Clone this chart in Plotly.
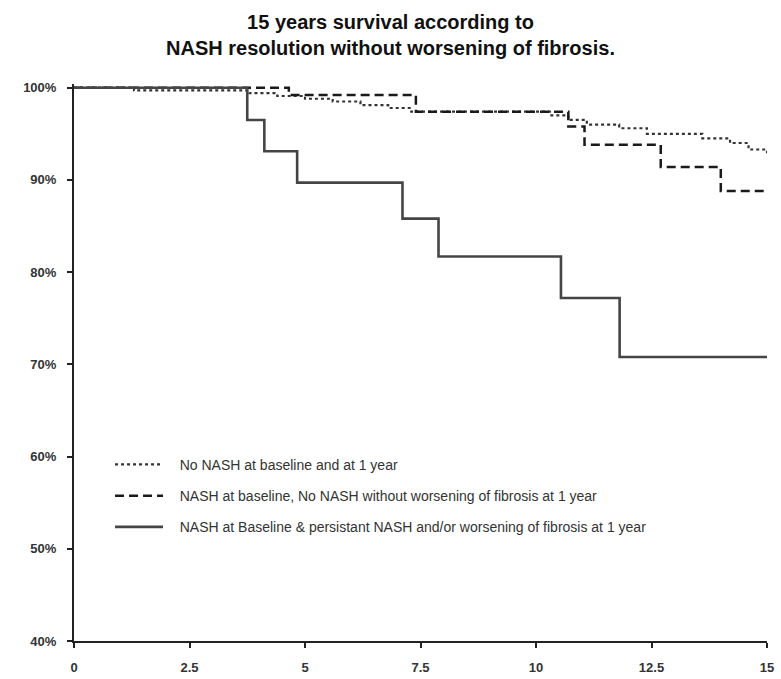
import plotly.graph_objects as go

# Kaplan-Meier step curves: follow-up time (years) and cumulative survival (%)
no_nash_t = [0, 1.3, 3.8, 4.4, 5.0, 5.6, 6.2, 6.8, 7.3, 10.3, 10.7, 11.1, 11.8, 12.4, 13.6, 14.2, 14.6, 15]
no_nash_s = [100, 99.7, 99.4, 99.1, 98.8, 98.5, 98.1, 97.8, 97.4, 97.0, 96.5, 96.0, 95.6, 95.0, 94.5, 94.0, 93.3, 92.9]

resolved_t = [0, 4.65, 7.4, 10.7, 11.05, 12.7, 14.0, 15]
resolved_s = [100, 99.2, 97.4, 95.8, 93.8, 91.4, 88.8, 88.8]

persistent_t = [0, 3.75, 4.12, 4.83, 7.11, 7.89, 10.54, 11.81, 15]
persistent_s = [100, 96.5, 93.1, 89.7, 85.8, 81.7, 77.2, 70.8, 70.8]

series_names = [
    "No NASH at baseline and at 1 year",
    "NASH at baseline, No NASH without worsening of fibrosis at 1 year",
    "NASH at Baseline & persistant NASH and/or worsening of fibrosis at 1 year",
]

x_ticks = [0, 2.5, 5, 7.5, 10, 12.5, 15]
x_tick_labels = ["0", "2.5", "5", "7.5", "10", "12.5", "15"]
y_ticks = [40, 50, 60, 70, 80, 90, 100]
y_tick_labels = ["40%", "50%", "60%", "70%", "80%", "90%", "100%"]

FONT = "Liberation Sans, Arial, sans-serif"
PAD = "&nbsp;&nbsp;&nbsp;"

fig = go.Figure()
fig.add_trace(go.Scatter(
    x=no_nash_t, y=no_nash_s, mode="lines", line_shape="hv",
    name=PAD + series_names[0], legendgroup="a",
    line=dict(color="#333333", width=2.2, dash="dot"),
))
fig.add_trace(go.Scatter(
    x=resolved_t, y=resolved_s, mode="lines", line_shape="hv",
    name=PAD + series_names[1], legendgroup="b",
    line=dict(color="#1a1a1a", width=2.5, dash="9px,5px"),
))
fig.add_trace(go.Scatter(
    x=persistent_t, y=persistent_s, mode="lines", line_shape="hv",
    name=PAD + series_names[2], legendgroup="c",
    line=dict(color="#454545", width=2.6),
))

axis_font = dict(family=FONT, size=13, color="#333333")


def bold(labels):
    return ["<b>" + s + "</b>" for s in labels]


fig.update_layout(
    width=781, height=679,
    paper_bgcolor="white", plot_bgcolor="white",
    margin=dict(l=74, r=14, t=84, b=38),
    title=dict(
        text="<b>15 years survival according to<br>NASH resolution without worsening of fibrosis.</b>",
        x=0.5, xanchor="center", xref="container",
        y=0.957, yanchor="middle",
        font=dict(family=FONT, size=20, color="#111111"),
    ),
    xaxis=dict(
        range=[0, 15], tickvals=x_ticks, ticktext=bold(x_tick_labels),
        showgrid=False, zeroline=False, showline=True,
        linecolor="#222222", linewidth=2,
        ticks="outside", ticklen=5, tickwidth=1.5, tickcolor="#222222",
        tickfont=axis_font, ticklabelstandoff=8, automargin=False,
    ),
    yaxis=dict(
        range=[40, 100.4], tickvals=y_ticks, ticktext=bold(y_tick_labels),
        showgrid=False, zeroline=False, showline=True,
        linecolor="#222222", linewidth=2,
        ticks="outside", ticklen=5, tickwidth=1.5, tickcolor="#222222",
        tickfont=axis_font, ticklabelstandoff=8, automargin=False,
    ),
    legend=dict(
        x=0.052, y=0.345, xanchor="left", yanchor="top",
        bgcolor="rgba(0,0,0,0)",
        font=dict(family=FONT, size=14, color="#333333"),
        tracegroupgap=10, itemwidth=48,
    ),
    showlegend=True,
)

fig.write_html("out.html")
